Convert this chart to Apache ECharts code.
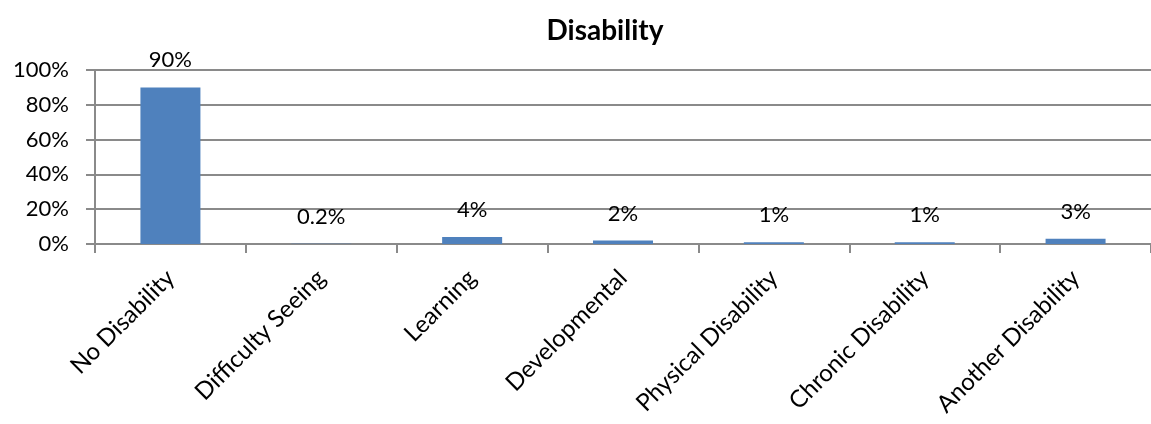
<!DOCTYPE html>
<html>
<head>
<meta charset="utf-8">
<style>
  html, body { margin: 0; padding: 0; background: #fff; overflow: hidden; }
  #chart { width: 1151px; height: 424px; }
</style>
<script src="https://cdn.jsdelivr.net/npm/echarts@6/dist/echarts.min.js"></script>
</head>
<body>
<div id="chart"></div>
<script>
// Share of respondents by disability type (percent)
const categories = ['No Disability', 'Difficulty Seeing', 'Learning', 'Developmental', 'Physical Disability', 'Chronic Disability', 'Another Disability'];
const shares = [90, 0.2, 4, 2, 1, 1, 3];
const yTicks = [0, 20, 40, 60, 80, 100];

const FONT = 'Lato, "Open Sans", sans-serif';
const GRID_GRAY = '#8a8a8a';
const chart = echarts.init(document.getElementById('chart'), null, { renderer: 'canvas' });

chart.setOption({
  animation: false,
  backgroundColor: '#ffffff',
  title: {
    text: 'Disability',
    left: 600,
    top: 12,
    textAlign: 'center',
    textStyle: { fontFamily: FONT, fontSize: 28, fontWeight: 'bold', color: '#000' }
  },
  grid: { left: 95, right: -5, top: 70, bottom: 180, containLabel: false },
  xAxis: {
    type: 'category',
    data: categories,
    axisLine: { lineStyle: { color: GRID_GRAY, width: 2 } },
    axisTick: { show: true, length: 9, lineStyle: { color: GRID_GRAY, width: 2 } },
    axisLabel: {
      rotate: 45,
      interval: 0,
      margin: 30,
      fontFamily: FONT,
      fontSize: 24,
      color: '#000'
    }
  },
  yAxis: {
    type: 'value',
    min: yTicks[0],
    max: yTicks[yTicks.length - 1],
    interval: 20,
    axisLine: { show: true, lineStyle: { color: GRID_GRAY, width: 2 } },
    axisTick: { show: true, length: 9, lineStyle: { color: GRID_GRAY, width: 2 } },
    splitLine: { show: true, lineStyle: { color: GRID_GRAY, width: 2 } },
    axisLabel: {
      margin: 26,
      fontFamily: FONT,
      fontSize: 22,
      color: '#000',
      formatter: v => v + '%'
    }
  },
  series: [{
    type: 'bar',
    data: shares,
    barWidth: 60,
    itemStyle: { color: '#4f81bd' },
    label: {
      show: true,
      position: 'top',
      distance: 16,
      fontFamily: FONT,
      fontSize: 22,
      color: '#000',
      formatter: p => p.value + '%'
    }
  }]
});
</script>
</body>
</html>
